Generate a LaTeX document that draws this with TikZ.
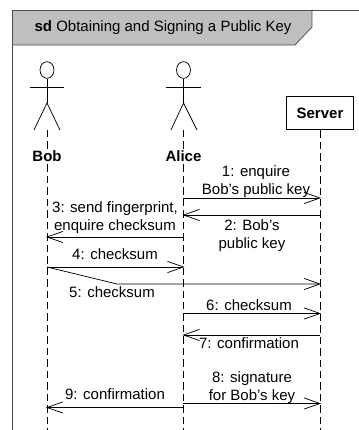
\documentclass[tikz,border=0pt]{standalone}
\usepackage{fontspec}
\setmainfont{Liberation Sans}
\usepackage{tikz}
\usetikzlibrary{arrows.meta,shapes.geometric,positioning}
\definecolor{framegray}{gray}{0.75}
\definecolor{framedark}{gray}{0.3}
\pgfdeclarearrow{
  name = OpenV,
  setup code = {\pgfarrowssettipend{0pt}\pgfarrowssetlineend{-0.4pt}},
  drawing code = {
    \pgfsetdash{}{0pt}
    \pgfpathmoveto{\pgfpoint{-12pt}{4.2pt}}
    \pgfpathlineto{\pgfpointorigin}
    \pgfpathlineto{\pgfpoint{-12pt}{-4.2pt}}
    \pgfusepathqstroke
  },
}
\tikzset{
  msglabel/.style={inner sep=0pt,font=\fontsize{11.25}{13.5}\selectfont,align=center},
  actorname/.style={msglabel,font=\fontsize{11.25}{13.5}\selectfont\bfseries,fill=white,inner sep=1pt},
  actorhead/.style={draw,ellipse,minimum width=10.5pt,minimum height=12.5pt,inner sep=0pt},
  lifeline/.style={draw,dash pattern=on 5.6pt off 3pt},
  msg/.style={draw,-OpenV}
}
\begin{document}
\begin{tikzpicture}[x=0.75pt,y=-0.75pt,line width=0.55pt,line cap=butt]
\useasboundingbox (0,0) rectangle (359,430);
% frame
\fill [framegray] (13,10.5) -- (312,10.5) -- (312,27) -- (295,45) -- (13,45) -- cycle;
\draw [framedark] (312,10.5) -- (312,27) -- (295,45) -- (13,45);
\draw [framedark,line width=0.75pt] (13,430) -- (13,10.5) -- (359,10.5);
\node (title) [msglabel] at (163,28) {\textbf{sd} Obtaining and Signing a Public Key};
% bob
\coordinate (bobtop) at (47,130);
\coordinate (bobend) at (47,430);
\draw [lifeline] (bobtop) -- (bobend);
\node (bobhead) [actorhead] at (47,70) {};
\coordinate (bobhip) at (47,103);
\draw (bobhead) -- (bobhip);
\draw (30,87) -- (64,87);
\draw (34,130) -- (bobhip) -- (60,130);
\node (bob) [actorname] at (47,156) {Bob};
% alice
\coordinate (alicetop) at (183.5,130);
\coordinate (aliceend) at (183.5,430);
\draw [lifeline] (alicetop) -- (aliceend);
\node (alicehead) [actorhead] at (183.5,70) {};
\coordinate (alicehip) at (183.5,103);
\draw (alicehead) -- (alicehip);
\draw (166.5,87) -- (201,87);
\draw (171,130) -- (alicehip) -- (197,130);
\node (alice) [actorname] at (183.5,156) {Alice};
% server
\node (server) [draw,fill=white,line width=0.8pt,minimum width=50.5pt,minimum height=25pt,inner sep=0pt,font=\fontsize{11.25}{13.5}\selectfont\bfseries] at (320,113) {Server};
\coordinate (serverend) at (320,430);
\draw [lifeline] (server.south) -- (serverend);
% messages
\coordinate (a1) at (183.5,198);
\coordinate (s1) at (320,198);
\draw [msg] (a1) -- (s1);
\node (m1) [msglabel] at (256,182) {1: enquire\\Bob's public key};
\coordinate (s2) at (320,215);
\coordinate (a2) at (183.5,215);
\draw [msg] (s2) -- (a2);
\node (m2) [msglabel] at (252,236) {2: Bob's\\public key};
\coordinate (a3) at (183.5,237);
\coordinate (b3) at (47,237);
\draw [msg] (a3) -- (b3);
\node (m3) [msglabel] at (115,217.5) {3: send fingerprint,\\enquire checksum};
\coordinate (b4) at (47,267);
\coordinate (a4) at (183.5,267);
\draw [msg] (b4) -- (a4);
\node (m4) [msglabel] at (115,254) {4: checksum};
\coordinate (k5) at (117,284);
\coordinate (s5) at (320,284);
\draw [msg] (b4) -- (k5) -- (s5);
\node (m5) [msglabel] at (112,292) {5: checksum};
\coordinate (a6) at (183.5,313.5);
\coordinate (s6) at (320,313.5);
\draw [msg] (a6) -- (s6);
\node (m6) [msglabel] at (249,305) {6: checksum};
\coordinate (s7) at (320,335);
\coordinate (a7) at (183.5,335);
\draw [msg] (s7) -- (a7);
\node (m7) [msglabel] at (249,343) {7: confirmation};
\coordinate (a8) at (183.5,403.5);
\coordinate (s8) at (320,403.5);
\draw [msg] (a8) -- (s8);
\node (m8) [msglabel] at (252,388) {8: signature\\for Bob's key};
\coordinate (a9) at (183.5,407.5);
\coordinate (b9) at (47,407.5);
\draw [msg] (a9) -- (b9);
\node (m9) [msglabel] at (115,394) {9: confirmation};
\end{tikzpicture}
\end{document}
